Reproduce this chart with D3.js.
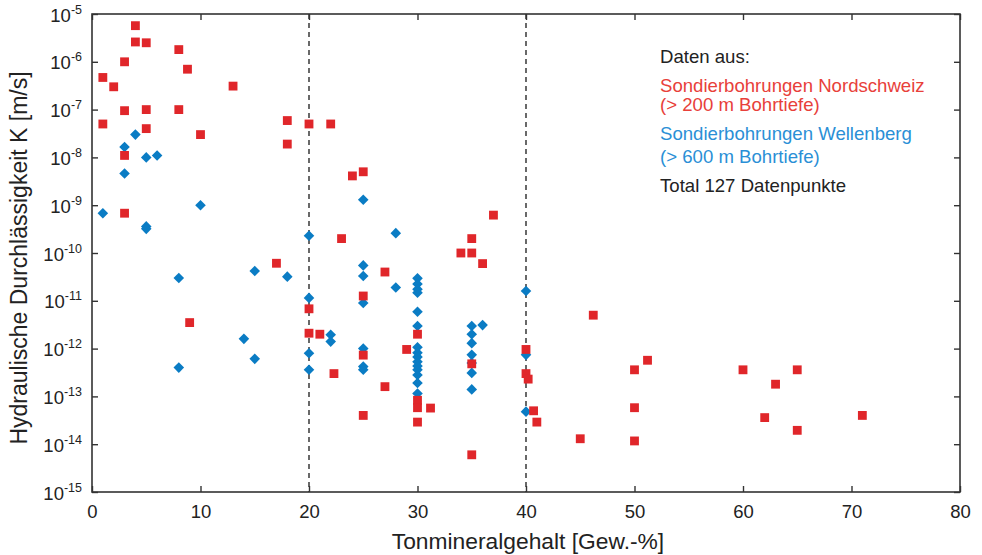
<!DOCTYPE html>
<html>
<head>
<meta charset="utf-8">
<script src="https://cdn.jsdelivr.net/npm/d3@7"></script>
<style>
  body { margin: 0; background: #fff; }
  text { font-family: "Liberation Sans", Arial, sans-serif; }
</style>
</head>
<body>
<div id="chart"></div>
<script>
// Sondierbohrungen Nordschweiz: Tonmineralgehalt [Gew.-%] / K [m/s]
var nordX = [1, 1, 2, 3, 3, 3, 3, 4, 4, 5, 5, 5, 8, 8.8, 8, 10, 13, 9, 17, 18, 18, 20, 22, 20, 20, 21,
             22.3, 23, 24, 25, 25, 25, 25, 27, 27, 29, 30, 30, 30, 30, 31.2, 34, 35, 35, 35, 35, 36, 37,
             40, 40, 40.2, 40.7, 41, 45, 46.2, 50, 50, 50, 51.2, 60, 62, 63, 65, 65, 71];
var nordK = [4.7e-7, 5e-8, 3e-7, 1e-6, 9.5e-8, 1.1e-8, 6.8e-10, 5.7e-6, 2.6e-6, 2.5e-6, 1e-7, 4e-8,
             1.8e-6, 7e-7, 1e-7, 3e-8, 3.1e-7, 3.5e-12, 6.1e-11, 5.9e-8, 1.9e-8, 5e-8, 5e-8, 6.8e-12,
             2.1e-12, 2e-12, 3e-13, 2e-10, 4.1e-9, 5e-9, 1.26e-11, 7.3e-13, 4e-14, 4e-11, 1.6e-13,
             9.6e-13, 2e-12, 8.3e-14, 5.8e-14, 2.9e-14, 5.7e-14, 1e-10, 2e-10, 1e-10, 4.8e-13, 6e-15,
             6e-11, 6.2e-10, 9.6e-13, 3e-13, 2.3e-13, 5e-14, 2.9e-14, 1.3e-14, 5e-12, 3.6e-13, 5.8e-14,
             1.17e-14, 5.7e-13, 3.6e-13, 3.6e-14, 1.8e-13, 3.6e-13, 1.95e-14, 4e-14];

// Sondierbohrungen Wellenberg
var wellX = [1, 3, 3, 4, 5, 6, 5, 5, 8, 8, 10, 14, 15, 15, 18, 20, 20, 20, 20, 22, 22,
             25, 25, 25, 25, 25, 25, 25, 28, 28,
             30, 30, 30, 30, 30, 30, 30, 30, 30, 30, 30, 30, 30, 30, 30,
             35, 35, 35, 35, 35, 35, 35, 36, 40, 40, 40];
var wellK = [6.8e-10, 1.65e-8, 4.6e-9, 3e-8, 1e-8, 1.1e-8, 3.6e-10, 3.2e-10, 3e-11, 4e-13, 1e-9,
             1.6e-12, 4.2e-11, 6.1e-13, 3.2e-11, 2.3e-10, 1.15e-11, 8e-13, 3.6e-13, 1.95e-12, 1.4e-12,
             1.3e-9, 5.5e-11, 3.3e-11, 9e-12, 1e-12, 4.2e-13, 3.6e-13, 2.6e-10, 1.9e-11,
             2.95e-11, 2.24e-11, 1.74e-11, 1.48e-11, 5.9e-12, 2.96e-12, 1.07e-12, 8.2e-13, 6.7e-13,
             5.3e-13, 4.3e-13, 3.6e-13, 2.8e-13, 1.9e-13, 1.15e-13,
             2.96e-12, 2e-12, 1.3e-12, 7.4e-13, 5e-13, 3.1e-13, 1.4e-13, 3.1e-12, 1.6e-11, 7.4e-13, 4.8e-14];

var xTicks = [0, 10, 20, 30, 40, 50, 60, 70, 80];
var yExponents = [-5, -6, -7, -8, -9, -10, -11, -12, -13, -14, -15];
var dashedAt = [20, 40];

var legendLines = [
  { text: "Daten aus:", color: "#222" },
  { text: "Sondierbohrungen Nordschweiz", color: "#e8403a" },
  { text: "(> 200 m Bohrtiefe)", color: "#e8403a" },
  { text: "Sondierbohrungen Wellenberg", color: "#2a8fd6" },
  { text: "(> 600 m Bohrtiefe)", color: "#2a8fd6" },
  { text: "Total 127 Datenpunkte", color: "#222" }
];
var legendY = [63, 92, 111, 140, 163, 192];

var w = 982, h = 555;
var pLeft = 92, pRight = 960, pTop = 14, pBottom = 492;

var svg = d3.select("#chart").append("svg")
    .attr("width", w)
    .attr("height", h);

var x = d3.scaleLinear().domain([0, 80]).range([pLeft, pRight]);
var y = d3.scaleLog().domain([1e-15, 1e-5]).range([pBottom, pTop]);

var yTickVals = yExponents.map(function(e) { return Math.pow(10, e); });

// gestrichelte Linien bei 20 und 40 %
svg.selectAll("line.dash")
   .data(dashedAt)
   .enter()
   .append("line")
   .attr("x1", function(d) { return x(d); })
   .attr("x2", function(d) { return x(d); })
   .attr("y1", pTop)
   .attr("y2", pBottom)
   .attr("stroke", "#444")
   .attr("stroke-width", 1.6)
   .attr("stroke-dasharray", "5,4");

// Achsen (Ticks nach innen)
var gx = svg.append("g")
    .attr("transform", "translate(0," + pBottom + ")")
    .call(d3.axisBottom(x).tickValues(xTicks).tickSizeInner(-6).tickSizeOuter(0).tickPadding(13));
svg.append("g")
    .attr("transform", "translate(0," + pTop + ")")
    .call(d3.axisTop(x).tickValues(xTicks).tickSizeInner(-6).tickSizeOuter(0).tickFormat(""));
var gy = svg.append("g")
    .attr("transform", "translate(" + pLeft + ",0)")
    .call(d3.axisLeft(y).tickValues(yTickVals).tickSizeInner(-6).tickSizeOuter(0).tickPadding(10));
svg.append("g")
    .attr("transform", "translate(" + pRight + ",0)")
    .call(d3.axisRight(y).tickValues(yTickVals).tickSizeInner(-6).tickSizeOuter(0).tickFormat(""));

svg.selectAll(".domain").remove();
svg.selectAll(".tick line").attr("stroke", "#333").attr("stroke-width", 1.4);

gx.selectAll("text")
  .attr("font-size", "18.5px")
  .attr("font-family", "Liberation Sans, Arial, sans-serif")
  .attr("fill", "#222");

gy.selectAll(".tick text")
  .each(function(d, i) {
    var t = d3.select(this);
    t.text(null)
     .attr("font-family", "Liberation Sans, Arial, sans-serif")
     .attr("fill", "#222")
     .attr("dy", null)
     .attr("y", 7);
    t.append("tspan").attr("font-size", "18.5px").text("10");
    t.append("tspan").attr("font-size", "12.5px").attr("dy", -8).text(yExponents[i]);
  });

// Rahmen
svg.append("rect")
   .attr("x", pLeft)
   .attr("y", pTop)
   .attr("width", pRight - pLeft)
   .attr("height", pBottom - pTop)
   .attr("fill", "none")
   .attr("stroke", "#333")
   .attr("stroke-width", 1.6);

// Wellenberg: Rauten
var diamond = d3.symbol().type(d3.symbolSquare).size(56);
svg.selectAll("path.well")
   .data(d3.range(wellX.length))
   .enter()
   .append("path")
   .attr("d", diamond)
   .attr("transform", function(i) {
     return "translate(" + x(wellX[i]) + "," + y(wellK[i]) + ") rotate(45)";
   })
   .attr("fill", "#0a7cc4");

// Nordschweiz: Quadrate
var square = d3.symbol().type(d3.symbolSquare).size(78);
svg.selectAll("path.nord")
   .data(d3.range(nordX.length))
   .enter()
   .append("path")
   .attr("d", square)
   .attr("transform", function(i) {
     return "translate(" + x(nordX[i]) + "," + y(nordK[i]) + ")";
   })
   .attr("fill", "#e0262a");

// Legende
svg.selectAll("text.legend")
   .data(legendLines)
   .enter()
   .append("text")
   .attr("x", 660)
   .attr("y", function(d, i) { return legendY[i]; })
   .attr("font-size", "18.6px")
   .attr("fill", function(d) { return d.color; })
   .text(function(d) { return d.text; });

// Achsentitel
svg.append("text")
   .attr("x", 528)
   .attr("y", 549)
   .attr("text-anchor", "middle")
   .attr("font-size", "22.8px")
   .attr("fill", "#222")
   .text("Tonmineralgehalt [Gew.-%]");

svg.append("text")
   .attr("transform", "translate(27,258) rotate(-90)")
   .attr("text-anchor", "middle")
   .attr("font-size", "23px")
   .attr("fill", "#222")
   .text("Hydraulische Durchlässigkeit K [m/s]");
</script>
</body>
</html>
